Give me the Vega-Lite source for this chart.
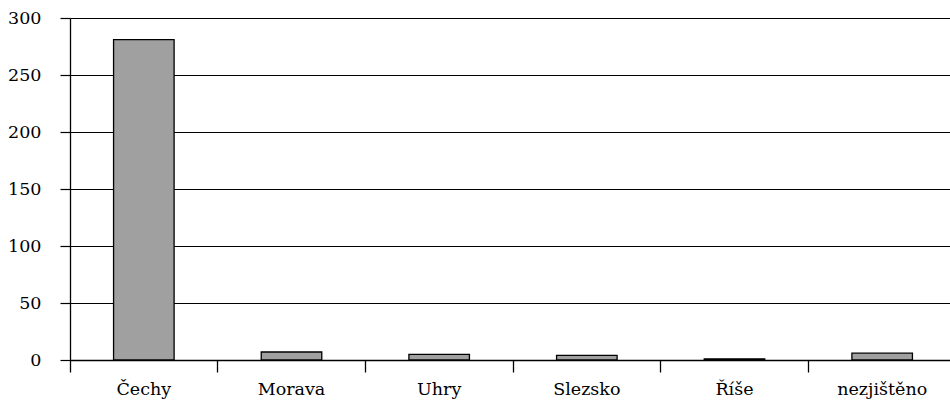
{
  "$schema": "https://vega.github.io/schema/vega-lite/v6.json",
  "autosize": "none",
  "width": 886,
  "height": 342,
  "padding": {"left": 70, "top": 18, "right": 0, "bottom": 43},
  "background": "white",
  "config": {
    "view": {"stroke": null},
    "font": "DejaVu Serif"
  },
  "data": {
    "values": [
      {"region": "Čechy", "count": 281},
      {"region": "Morava", "count": 7},
      {"region": "Uhry", "count": 5},
      {"region": "Slezsko", "count": 4},
      {"region": "Říše", "count": 1},
      {"region": "nezjištěno", "count": 6}
    ]
  },
  "mark": {"type": "bar", "fill": "#a0a0a0", "stroke": "black", "strokeWidth": 1.3, "width": {"band": 0.41}},
  "encoding": {
    "x": {
      "field": "region", "type": "nominal", "sort": null,
      "scale": {"paddingInner": 0, "paddingOuter": 0},
      "axis": {
        "title": null, "labelAngle": 0, "bandPosition": 0,
        "labelFont": "DejaVu Serif", "labelFontSize": 17.5, "labelColor": "black",
        "domainColor": "black", "domainWidth": 1.3,
        "tickColor": "black", "tickSize": 12, "tickWidth": 1.3,
        "labelPadding": 8, "grid": false
      }
    },
    "y": {
      "field": "count", "type": "quantitative",
      "scale": {"domain": [0, 300]},
      "axis": {
        "title": null, "values": [0, 50, 100, 150, 200, 250, 300],
        "labelFont": "DejaVu Serif", "labelFontSize": 17.5, "labelColor": "black",
        "grid": true, "gridColor": "black", "gridOpacity": 1, "gridWidth": 1.2,
        "domainColor": "black", "domainWidth": 1.3,
        "tickColor": "black", "tickSize": 10, "tickWidth": 1.2,
        "labelPadding": 19
      }
    }
  }
}
